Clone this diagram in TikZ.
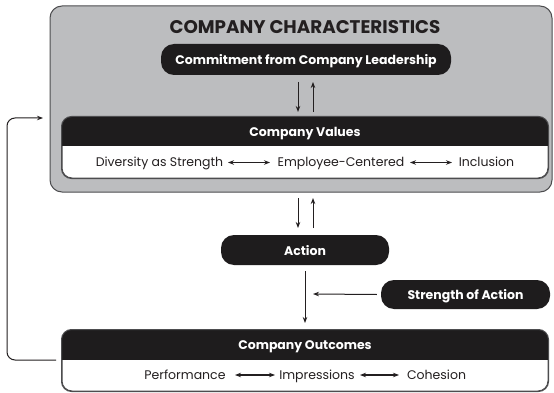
\documentclass[tikz,border=0pt]{standalone}
\usepackage{fontspec}
\setmainfont{Poppins}
\usetikzlibrary{arrows.meta,calc}
\definecolor{boxblack}{HTML}{1E1C1D}
\definecolor{panelgray}{HTML}{BCBDBF}
\definecolor{edgegray}{HTML}{4D4D4F}
\definecolor{ink}{HTML}{231F20}
\begin{document}
\begin{tikzpicture}[x=1pt,y=-1pt,
  arr/.style={-{Stealth[length=6pt,width=4.5pt]}, line width=1pt, draw=ink},
  dbl/.style={{Stealth[length=6pt,width=4.5pt]}-{Stealth[length=6pt,width=4.5pt]}, line width=1.1pt, draw=ink},
  pill/.style={rectangle, rounded corners=13pt, fill=boxblack, inner sep=0pt},
  hdrtext/.style={text=white, font=\bfseries\fontsize{12.5}{14}\selectfont, inner sep=0pt, anchor=base},
  rowtext/.style={text=ink, font=\fontsize{12.5}{14}\selectfont, inner sep=0pt, anchor=base},
  frame/.style={draw=edgegray, line width=1pt, fill=white, rounded corners=10pt, inner sep=0pt},
]
\useasboundingbox (0,0) rectangle (554,393);
\fill[white] (0,0) rectangle (554,393);

% grey panel
\node[draw=edgegray, line width=1pt, fill=panelgray, rounded corners=12pt,
      minimum width=502pt, minimum height=186pt, inner sep=0pt] (panel) at (301,99) {};
\node[text=ink, font=\bfseries\fontsize{18.3}{20}\selectfont, inner sep=0pt, anchor=base]
      (title) at (305,33.3) {COMPANY CHARACTERISTICS};

% leadership
\node[pill, minimum width=290pt, minimum height=31pt] (lead) at (306,59.5) {};
\node[hdrtext] (leadtxt) at (306,65) {Commitment from Company Leadership};

% values
\node[frame, minimum width=486pt, minimum height=61pt] (values) at (305,147.5) {};
\begin{scope}
  \clip[rounded corners=10pt] (values.north west) rectangle (values.south east);
  \fill[boxblack] (values.north west) rectangle ($(values.north east)+(0,30)$);
\end{scope}
\draw[edgegray, line width=1pt, rounded corners=10pt] (values.north west) rectangle (values.south east);
\node[hdrtext] (valtxt) at (305,136.7) {Company Values};
\node[rowtext] (div) at (159.5,166.5) {Diversity as Strength};
\node[rowtext] (emp) at (341,166.5) {Employee-Centered};
\node[rowtext] (inc) at (486.5,166.5) {Inclusion};
\coordinate (d1) at (228,162.5); \coordinate (d2) at (270,162.5);
\coordinate (d3) at (410,162.5); \coordinate (d4) at (452,162.5);
\draw[dbl] (d1) -- (d2);
\draw[dbl] (d3) -- (d4);

% arrows lead <-> values
\coordinate (a1) at (298,82); \coordinate (a2) at (298,112);
\coordinate (a3) at (313,112); \coordinate (a4) at (313,82);
\draw[arr] (a1) -- (a2);
\draw[arr] (a3) -- (a4);

% action
\node[pill, minimum width=168pt, minimum height=30pt] (action) at (305,250) {};
\node[hdrtext] (acttxt) at (305,255.3) {Action};
\coordinate (b1) at (298,198); \coordinate (b2) at (298,228);
\coordinate (b3) at (313,228); \coordinate (b4) at (313,198);
\draw[arr] (b1) -- (b2);
\draw[arr] (b3) -- (b4);

% strength
\node[pill, minimum width=169pt, minimum height=29pt] (strength) at (465.5,294.5) {};
\node[hdrtext] (strtxt) at (465.5,299) {Strength of Action};
\coordinate (s1) at (313,294);
\draw[arr] ([xshift=-4pt]strength.west) -- (s1);

% outcomes
\node[frame, minimum width=486pt, minimum height=61pt] (outcomes) at (305,360.5) {};
\begin{scope}
  \clip[rounded corners=10pt] (outcomes.north west) rectangle (outcomes.south east);
  \fill[boxblack] (outcomes.north west) rectangle ($(outcomes.north east)+(0,30)$);
\end{scope}
\draw[edgegray, line width=1pt, rounded corners=10pt] (outcomes.north west) rectangle (outcomes.south east);
\node[hdrtext] (outtxt) at (305,349.7) {Company Outcomes};
\node[rowtext] (perf) at (185,379) {Performance};
\node[rowtext] (imp) at (317,379) {Impressions};
\node[rowtext] (coh) at (436.5,379) {Cohesion};
\coordinate (e1) at (235,375); \coordinate (e2) at (275,375);
\coordinate (e3) at (360,375); \coordinate (e4) at (399,375);
\draw[dbl] (e1) -- (e2);
\draw[dbl] (e3) -- (e4);

% action -> outcomes
\coordinate (c1) at (305,271); \coordinate (c2) at (305,323);
\draw[arr] (c1) -- (c2);

% feedback loop
\coordinate (f0) at (56,360);
\coordinate (f1) at (7,360);
\coordinate (f2) at (7,118);
\coordinate (f3) at (43,118);
\draw[arr, rounded corners=8pt] (f0) -- (f1) -- (f2) -- (f3);
\end{tikzpicture}
\end{document}
